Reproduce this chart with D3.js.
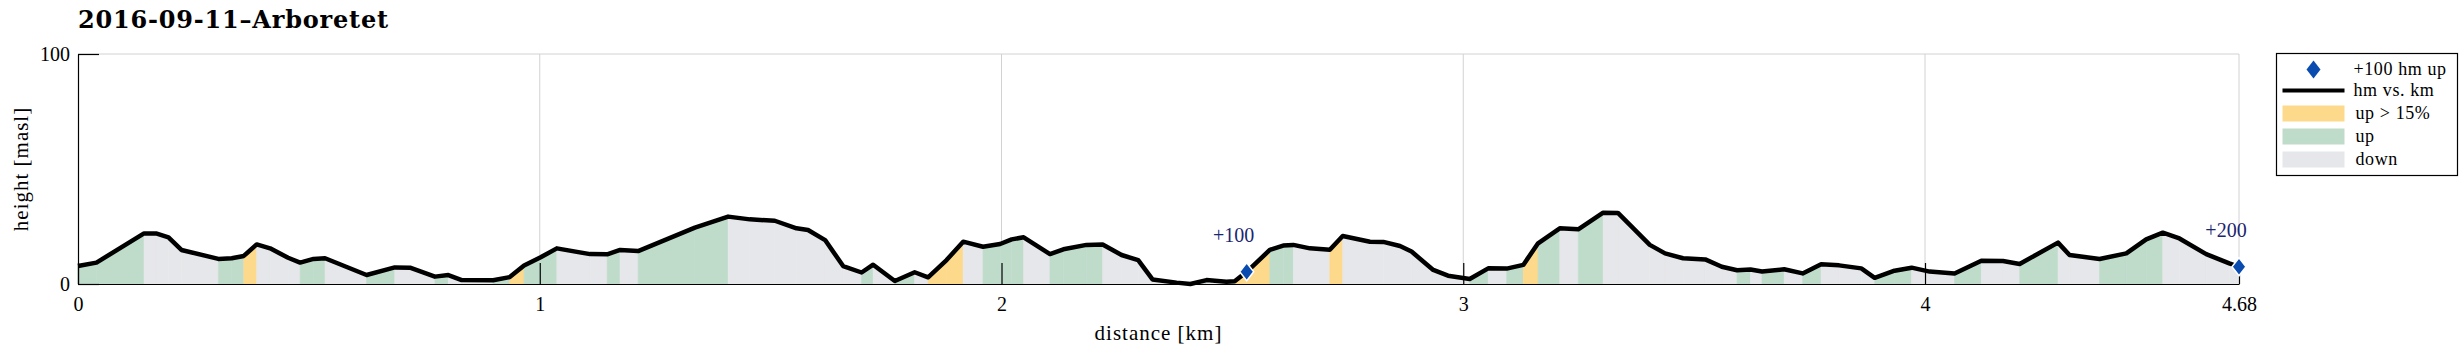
<!DOCTYPE html>
<html>
<head>
<meta charset="utf-8">
<script src="https://cdn.jsdelivr.net/npm/d3@7"></script>
<style>
  body { margin: 0; background: #fff; }
  text { font-family: "Liberation Serif", "Times New Roman", serif; fill: #000; }
</style>
</head>
<body>
<div id="chart"></div>
<script>
// Track profile: distance [km] and height [masl]
var distKm = [0.000, 0.040, 0.143, 0.169, 0.196, 0.224, 0.304, 0.333, 0.359, 0.387,
  0.416, 0.455, 0.481, 0.510, 0.535, 0.625, 0.686, 0.719, 0.773, 0.802,
  0.831, 0.899, 0.935, 0.966, 1.002, 1.037, 1.109, 1.146, 1.174, 1.213,
  1.336, 1.408, 1.455, 1.509, 1.556, 1.581, 1.618, 1.657, 1.697, 1.722,
  1.769, 1.812, 1.841, 1.881, 1.917, 1.960, 1.997, 2.022, 2.048, 2.105,
  2.134, 2.184, 2.219, 2.260, 2.296, 2.327, 2.379, 2.409, 2.444, 2.487,
  2.505, 2.531, 2.581, 2.610, 2.632, 2.668, 2.711, 2.739, 2.798, 2.827,
  2.863, 2.888, 2.935, 2.967, 3.014, 3.054, 3.094, 3.130, 3.162, 3.209,
  3.249, 3.303, 3.335, 3.404, 3.437, 3.476, 3.524, 3.560, 3.593, 3.622,
  3.647, 3.695, 3.735, 3.775, 3.814, 3.862, 3.891, 3.934, 3.971, 4.010,
  4.064, 4.122, 4.169, 4.205, 4.288, 4.313, 4.378, 4.436, 4.479, 4.515,
  4.551, 4.609, 4.659, 4.680];
var heightM = [7.8, 9.3, 22.0, 22.0, 20.3, 14.8, 10.9, 11.2, 12.2, 17.2,
  15.5, 11.4, 9.3, 10.9, 11.2, 3.9, 7.2, 7.1, 3.2, 3.9,
  1.7, 1.6, 3.0, 8.0, 11.6, 15.5, 13.0, 12.9, 14.8, 14.3,
  24.5, 29.3, 28.1, 27.5, 24.2, 23.5, 19.1, 7.8, 5.0, 8.4,
  1.3, 5.1, 2.9, 10.4, 18.4, 16.2, 17.4, 19.4, 20.3, 13.0,
  15.1, 17.0, 17.2, 12.6, 10.4, 2.0, 0.6, 0.0, 1.7, 1.0,
  1.2, 5.3, 14.8, 16.7, 17.0, 15.5, 14.9, 20.9, 18.4, 18.3,
  16.5, 14.1, 6.1, 3.6, 2.2, 6.8, 6.7, 8.3, 17.7, 24.2,
  23.8, 31.0, 30.9, 17.0, 13.3, 11.2, 10.7, 7.5, 6.0, 6.3,
  5.4, 6.4, 4.6, 8.6, 8.1, 6.8, 2.7, 5.8, 7.1, 5.4,
  4.6, 10.1, 10.0, 8.7, 18.0, 12.6, 10.9, 13.3, 19.4, 22.3,
  19.8, 13.0, 9.0, 7.5];

// +100 hm markers
var markerKm = [2.531, 4.68];
var markerH = [5.3, 7.5];
var markerLabels = ["+100", "+200"];

// Ticks
var xTicks = [0, 1, 2, 3, 4, 4.68];
var yTicks = [0, 100];

// Legend entries
var legendLabels = ["+100 hm up", "hm vs. km", "up > 15%", "up", "down"];

var colorSteep = "#fdd98b";
var colorUp = "#bfdccb";
var colorDown = "#e6e7ea";
var colorMarker = "#0a4bb0";
var colorGrid = "#d2d2d2";

var width = 2464;
var height = 351;

var svg = d3.select("#chart").append("svg")
  .attr("width", width)
  .attr("height", height);

var xScale = d3.scaleLinear().domain([0, 4.68]).range([78, 2239]);
var yScale = d3.scaleLinear().domain([0, 100]).range([284, 54]);

var points = distKm.map(function(d, i) { return { km: d, h: heightM[i] }; });

// Grid lines
svg.append("g").selectAll("line")
  .data(xTicks.slice(1))
  .enter().append("line")
  .attr("x1", function(d) { return xScale(d); })
  .attr("x2", function(d) { return xScale(d); })
  .attr("y1", yScale(100))
  .attr("y2", yScale(0))
  .attr("stroke", colorGrid)
  .attr("stroke-width", 1);
svg.append("line")
  .attr("x1", xScale(0)).attr("x2", xScale(4.68))
  .attr("y1", yScale(100)).attr("y2", yScale(100))
  .attr("stroke", colorGrid).attr("stroke-width", 1);

// Shaded segments, coloured by gradient
var area = d3.area()
  .x(function(d) { return xScale(d.km); })
  .y0(yScale(0))
  .y1(function(d) { return yScale(d.h); });

function segColor(a, b) {
  var grade = (b.h - a.h) / ((b.km - a.km) * 1000);
  if (grade > 0.15) return colorSteep;
  if (grade > 0) return colorUp;
  return colorDown;
}

var segs = d3.pairs(points);
svg.append("g").selectAll("path")
  .data(segs)
  .enter().append("path")
  .attr("d", function(d) { return area(d); })
  .attr("fill", function(d) { return segColor(d[0], d[1]); })
  .attr("stroke", function(d) { return segColor(d[0], d[1]); })
  .attr("stroke-width", 0.6);

// Profile line
var line = d3.line()
  .x(function(d) { return xScale(d.km); })
  .y(function(d) { return yScale(d.h); });

svg.append("path")
  .datum(points)
  .attr("d", line)
  .attr("fill", "none")
  .attr("stroke", "#000")
  .attr("stroke-width", 4.5)
  .attr("stroke-linejoin", "round");

// Axes
var xAxis = d3.axisBottom(xScale)
  .tickValues(xTicks)
  .tickFormat(function(d) { return d === 4.68 ? "4.68" : d3.format("d")(d); })
  .tickSizeInner(-21)
  .tickSizeOuter(0)
  .tickPadding(13);
var yAxis = d3.axisLeft(yScale)
  .tickValues(yTicks)
  .tickSizeInner(-21)
  .tickSizeOuter(0)
  .tickPadding(8);

var gx = svg.append("g")
  .attr("transform", "translate(0," + yScale(0) + ")")
  .call(xAxis);
var gy = svg.append("g")
  .attr("transform", "translate(" + xScale(0) + ",0)")
  .call(yAxis);

[gx, gy].forEach(function(g) {
  g.selectAll("path, line").attr("stroke", "#000").attr("stroke-width", 1.2);
  g.selectAll("text")
    .attr("fill", "#000")
    .style("font-family", "'Liberation Serif', serif")
    .style("font-size", "20px");
});
gy.selectAll("text").attr("dy", "0.34em");

// Markers
var diamond = "M0,-9L7,0L0,9L-7,0Z";
svg.append("g").selectAll("path")
  .data(markerKm)
  .enter().append("path")
  .attr("d", diamond)
  .attr("transform", function(d, i) {
    return "translate(" + xScale(d) + "," + yScale(markerH[i]) + ")";
  })
  .attr("fill", colorMarker)
  .attr("stroke", "#fff")
  .attr("stroke-width", 1.5);

svg.append("g").selectAll("text")
  .data(markerKm)
  .enter().append("text")
  .attr("x", function(d) { return xScale(d) - 13; })
  .attr("y", function(d, i) { return yScale(markerH[i]) - 30; })
  .attr("text-anchor", "middle")
  .style("font-size", "20px")
  .style("fill", "#1b2570")
  .text(function(d, i) { return markerLabels[i]; });

// Title and axis labels
svg.append("text")
  .attr("x", 78)
  .attr("y", 28)
  .style("font-family", "'DejaVu Serif', serif")
  .style("font-weight", "bold")
  .style("font-size", "24px")
  .style("letter-spacing", "0.8px")
  .text("2016-09-11\u2013Arboretet");

svg.append("text")
  .attr("x", (xScale(0) + xScale(4.68)) / 2)
  .attr("y", 340)
  .attr("text-anchor", "middle")
  .style("font-size", "21px")
  .style("letter-spacing", "1px")
  .text("distance [km]");

svg.append("text")
  .attr("transform", "translate(28," + (yScale(50)) + ")rotate(-90)")
  .attr("text-anchor", "middle")
  .style("font-size", "21px")
  .style("letter-spacing", "1px")
  .text("height [masl]");

// Legend
var legend = svg.append("g").attr("transform", "translate(2276.5,53.5)");
legend.append("rect")
  .attr("width", 181).attr("height", 122)
  .attr("fill", "#fff").attr("stroke", "#000").attr("stroke-width", 1.2);

var rowY = [16, 37, 60, 83, 106];
legend.append("path")
  .attr("d", diamond)
  .attr("transform", "translate(37," + rowY[0] + ")")
  .attr("fill", colorMarker);
legend.append("line")
  .attr("x1", 6).attr("x2", 68)
  .attr("y1", rowY[1]).attr("y2", rowY[1])
  .attr("stroke", "#000").attr("stroke-width", 4);
[colorSteep, colorUp, colorDown].forEach(function(c, i) {
  legend.append("rect")
    .attr("x", 6).attr("y", rowY[i + 2] - 8)
    .attr("width", 62).attr("height", 16)
    .attr("fill", c);
});
legend.selectAll("text.lab")
  .data(legendLabels)
  .enter().append("text")
  .attr("class", "lab")
  .attr("x", function(d, i) { return i < 2 ? 77 : 79; })
  .attr("y", function(d, i) { return rowY[i]; })
  .attr("dy", "0.33em")
  .style("font-size", "18px")
  .style("letter-spacing", "0.6px")
  .text(function(d) { return d; });
</script>
</body>
</html>
